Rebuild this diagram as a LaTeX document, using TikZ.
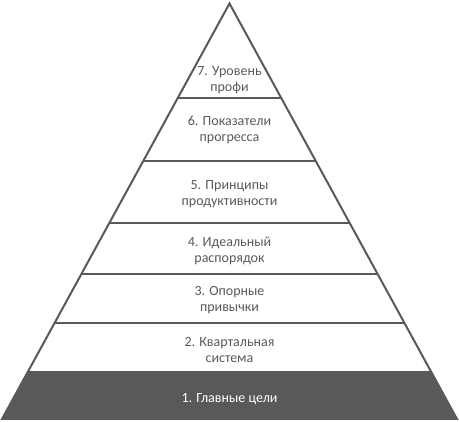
\documentclass[tikz,border=0pt]{standalone}
\usepackage{fontspec}
\setmainfont{Carlito}
\definecolor{pyrgray}{HTML}{595959}
\begin{document}
\begin{tikzpicture}[x=1pt,y=-1pt,
    nivel/.style={align=center,text=pyrgray,font=\fontsize{14}{16.5}\selectfont}]
    \useasboundingbox (0,0) rectangle (459,422);

    % Vértices de la pirámide
    \coordinate (cima) at (229.5,3.5);
    \coordinate (izq) at (2,419);
    \coordinate (der) at (457,419);

    % Nivel inferior y líneas entre niveles
    \begin{scope}
        \clip (cima) -- (izq) -- (der) -- cycle;
        \fill[pyrgray] (0,371) rectangle (459,422);
        \foreach \y in {98, 161, 223, 274, 323}
            \draw[pyrgray, line width=2pt] (0,\y) -- (459,\y);
    \end{scope}

    % Contorno
    \draw[pyrgray, line width=2pt] (cima) -- (izq) -- (der) -- cycle;

    % Textos de los niveles
    \node[nivel] (n7) at (229.5,80) {7. Уровень\\профи};
    \node[nivel] (n6) at (229.5,130) {6. Показатели\\прогресса};
    \node[nivel] (n5) at (229.5,194) {5. Принципы\\продуктивности};
    \node[nivel] (n4) at (229.5,251) {4. Идеальный\\распорядок};
    \node[nivel] (n3) at (229.5,300) {3. Опорные\\привычки};
    \node[nivel] (n2) at (229.5,350) {2. Квартальная\\система};
    \node[nivel, text=white] (n1) at (229.5,399) {1. Главные цели};
\end{tikzpicture}
\end{document}
